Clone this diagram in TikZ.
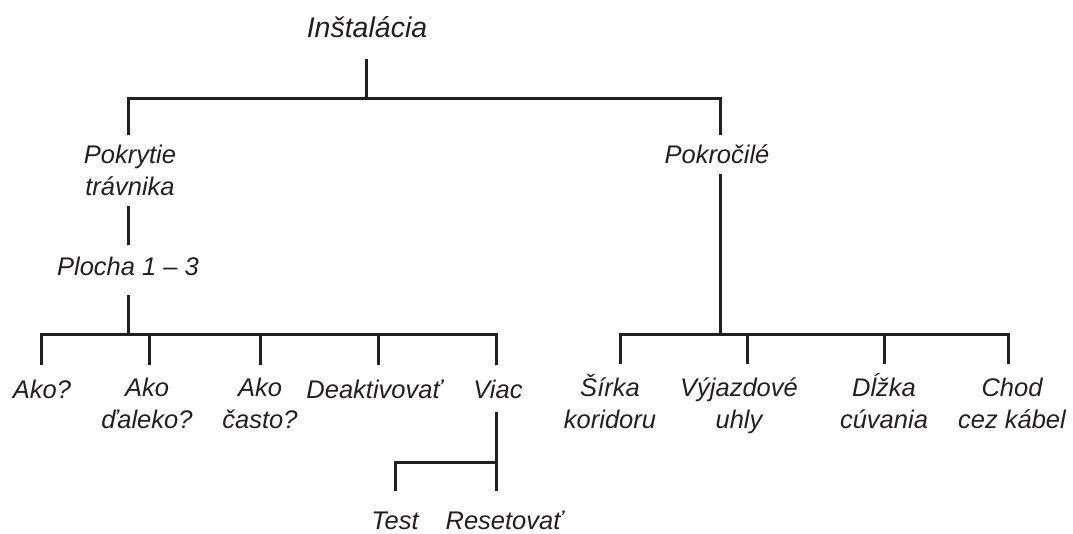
\documentclass[tikz,border=0pt]{standalone}
\usepackage{fontspec}
\setmainfont{Liberation Sans}
\definecolor{ink}{HTML}{231F20}
\begin{document}
\begin{tikzpicture}[x=1pt,y=-1pt,
  lbl/.style={font=\fontsize{25.5}{32}\selectfont\itshape, text=ink, inner sep=0pt, align=center, anchor=base},
  ttl/.style={lbl, font=\fontsize{28.5}{34}\selectfont\itshape},
  conn/.style={draw=ink, line width=3pt, line join=miter}]
\useasboundingbox (0,0) rectangle (1073,533);
% nodes (two-line nodes are anchored at the baseline of their last line)
\node[ttl] (root) at (367,37.3) {Inštalácia};
\node[lbl] (pok) at (130,195) {Pokrytie\\trávnika};
\node[lbl] (plo) at (128,275) {Plocha 1 – 3};
\node[lbl] (ako) at (42,398) {Ako?};
\node[lbl] (dal) at (147,428) {Ako\\ďaleko?};
\node[lbl] (cas) at (260,428) {Ako\\často?};
\node[lbl] (dea) at (374,398) {Deaktivovať};
\node[lbl] (via) at (498,398) {Viac};
\node[lbl, text depth=0pt] (tst) at (395,529) {Test};
\node[lbl, text depth=0pt] (res) at (504,529) {Resetovať};
\node[lbl] (adv) at (717,163) {Pokročilé};
\node[lbl] (sir) at (610,428) {Šírka\\koridoru};
\node[lbl] (vyj) at (739,428) {Výjazdové\\uhly};
\node[lbl] (dlz) at (884,428) {Dĺžka\\cúvania};
\node[lbl] (cho) at (1012,428) {Chod\\cez kábel};
% connector end points
\coordinate (rootB) at (366,59);
\coordinate (pokT) at (128,135);
\coordinate (advT) at (720,135);
\coordinate (pokB) at (128,206);
\coordinate (ploT) at (128,245);
\coordinate (ploB) at (128,295);
\coordinate (akoT) at (41,365);
\coordinate (dalT) at (149,365);
\coordinate (casT) at (260,365);
\coordinate (deaT) at (378,365);
\coordinate (viaT) at (496,365);
\coordinate (viaB) at (496,412);
\coordinate (resT) at (496,491);
\coordinate (tstT) at (395,491);
\coordinate (advB) at (720,174);
\coordinate (sirT) at (620,364);
\coordinate (vyjT) at (747,364);
\coordinate (dlzT) at (884,364);
\coordinate (choT) at (1008,364);
% connectors
\draw[conn] (rootB) -- (rootB |- 0,98.5);
\draw[conn] (pokT) -- (pokT |- 0,98.5) -- (advT |- 0,98.5) -- (advT);
\draw[conn] (pokB) -- (ploT);
\draw[conn] (ploB) -- (ploB |- 0,334);
\draw[conn] (akoT) -- (akoT |- 0,334) -- (viaT |- 0,334) -- (viaT);
\draw[conn] (dalT) -- (dalT |- 0,334);
\draw[conn] (casT) -- (casT |- 0,334);
\draw[conn] (deaT) -- (deaT |- 0,334);
\draw[conn] (viaB) -- (resT);
\draw[conn] (tstT) -- (tstT |- 0,462) -- (resT |- 0,462);
\draw[conn] (advB) -- (advB |- 0,334);
\draw[conn] (sirT) -- (sirT |- 0,334) -- (choT |- 0,334) -- (choT);
\draw[conn] (vyjT) -- (vyjT |- 0,334);
\draw[conn] (dlzT) -- (dlzT |- 0,334);
\end{tikzpicture}
\end{document}
